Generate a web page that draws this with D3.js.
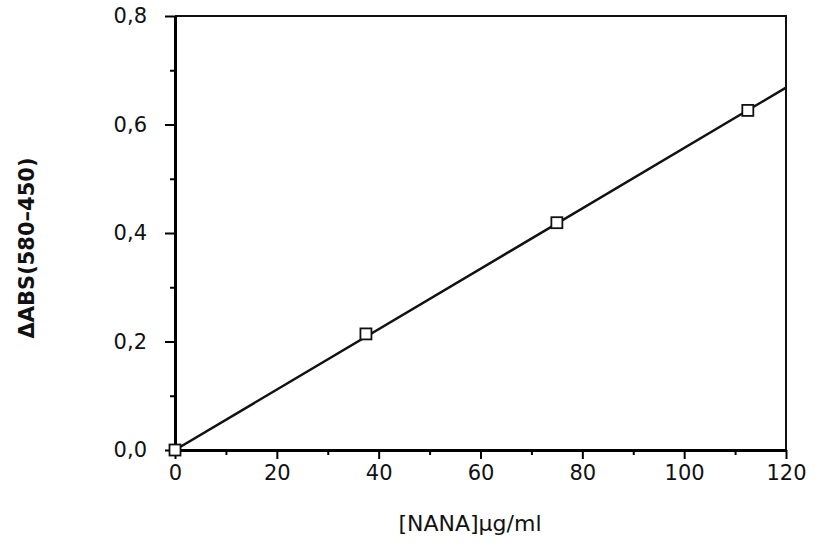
<!DOCTYPE html>
<html>
<head>
<meta charset="utf-8">
<script src="https://cdn.jsdelivr.net/npm/d3@7"></script>
<style>
  body { margin: 0; background: #fff; }
  text { font-family: "DejaVu Sans", sans-serif; fill: #111; }
</style>
</head>
<body>
<svg id="chart" width="815" height="548"></svg>
<script>
// data
const nana = [0, 37.5, 75, 112.5];
const absorbance = [0, 0.214, 0.419, 0.626];
const fitX = [0, 120];
const fitY = [0, 0.668];
const xTicks = [0, 20, 40, 60, 80, 100, 120];
const yTicks = [0, 0.2, 0.4, 0.6, 0.8];

const svg = d3.select('#chart');
const margin = {top: 16, right: 29, bottom: 98, left: 175};
const width = +svg.attr('width') - margin.left - margin.right;
const height = +svg.attr('height') - margin.top - margin.bottom;
const g = svg.append('g').attr('transform', `translate(${margin.left},${margin.top})`);

const x = d3.scaleLinear().domain([0, 120]).range([0, width]);
const y = d3.scaleLinear().domain([0, 0.8]).range([height, 0]);

const fmt = d => d3.format('.1f')(d).replace('.', ',');

// frame (top and right)
g.append('path')
  .attr('d', `M0,0H${width}V${height}`)
  .attr('fill', 'none')
  .attr('stroke', '#111')
  .attr('stroke-width', 2);

// minor ticks
g.append('g')
  .attr('transform', `translate(0,${height})`)
  .call(d3.axisBottom(x).tickValues(d3.range(10, 120, 20)).tickSize(5).tickFormat(''))
  .call(a => a.select('.domain').remove())
  .selectAll('line').attr('stroke-width', 2);
g.append('g')
  .call(d3.axisLeft(y).tickValues([0.1, 0.3, 0.5, 0.7]).tickSize(5).tickFormat(''))
  .call(a => a.select('.domain').remove())
  .selectAll('line').attr('stroke-width', 2);

// x-axis
const xAxis = g.append('g')
  .attr('transform', `translate(0,${height})`)
  .call(d3.axisBottom(x).tickValues(xTicks).tickSize(9).tickSizeOuter(0).tickPadding(6));
xAxis.select('.domain').attr('stroke-width', 3);
xAxis.selectAll('line').attr('stroke-width', 2);
xAxis.selectAll('text').style('font-size', '21px');

// y-axis
const yAxis = g.append('g')
  .call(d3.axisLeft(y).tickValues(yTicks).tickFormat(fmt).tickSize(10).tickSizeOuter(0).tickPadding(18));
yAxis.select('.domain').attr('stroke-width', 3);
yAxis.selectAll('line').attr('stroke-width', 2);
yAxis.selectAll('text').style('font-size', '21px');

// fit line
g.append('path')
  .datum(fitX.map((d, i) => [d, fitY[i]]))
  .attr('fill', 'none')
  .attr('stroke', '#111')
  .attr('stroke-width', 2.5)
  .attr('d', d3.line().x(d => x(d[0])).y(d => y(d[1])));

// markers
g.selectAll('.pt')
  .data(nana.map((d, i) => [d, absorbance[i]]))
  .enter().append('rect')
  .attr('class', 'pt')
  .attr('x', d => x(d[0]) - 5.5)
  .attr('y', d => y(d[1]) - 5.5)
  .attr('width', 11)
  .attr('height', 11)
  .attr('fill', '#fff')
  .attr('stroke', '#111')
  .attr('stroke-width', 1.8);

// axis titles
svg.append('text')
  .attr('x', 470)
  .attr('y', 531)
  .attr('text-anchor', 'middle')
  .style('font-size', '22px')
  .text('[NANA]µg/ml');

svg.append('text')
  .attr('transform', 'translate(34,248) rotate(-90)')
  .attr('text-anchor', 'middle')
  .style('font-size', '21px')
  .style('font-weight', 'bold')
  .text('ΔABS(580–450)');
</script>
</body>
</html>
